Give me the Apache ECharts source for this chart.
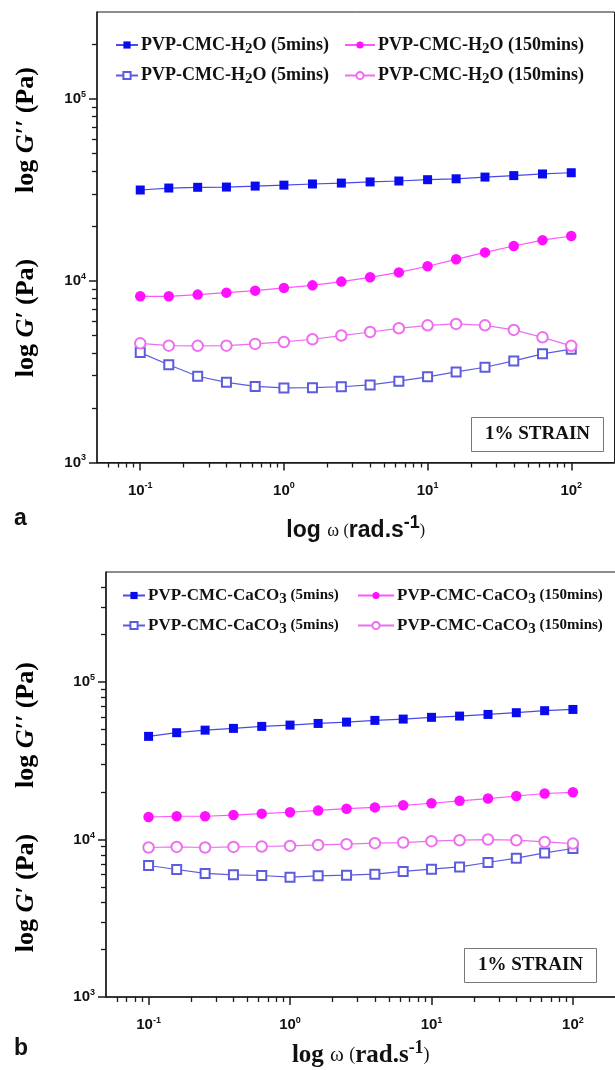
<!DOCTYPE html>
<html>
<head>
<meta charset="utf-8">
<script src="https://cdn.jsdelivr.net/npm/echarts@6/dist/echarts.min.js"></script>
<style>
html,body{margin:0;padding:0;background:#fff;}
#chart{width:615px;height:1070px;}
</style>
</head>
<body>
<div id="chart"></div>
<script>
// angular frequency (rad/s)
var omega = [0.1, 0.158, 0.251, 0.398, 0.631, 1, 1.58, 2.51, 3.98, 6.31, 10, 15.8, 25.1, 39.8, 63.1, 100];

// Panel a: PVP-CMC-H2O
var aGpp5   = [31500, 32300, 32600, 32700, 33100, 33500, 34000, 34400, 34900, 35300, 35900, 36300, 37100, 37800, 38600, 39200];
var aGpp150 = [8200, 8200, 8380, 8590, 8810, 9120, 9420, 9880, 10430, 11100, 12000, 13100, 14300, 15500, 16700, 17600];
var aGp5    = [4020, 3450, 2980, 2760, 2620, 2570, 2580, 2610, 2670, 2800, 2960, 3150, 3340, 3620, 3960, 4200];
var aGp150  = [4520, 4390, 4380, 4390, 4490, 4600, 4760, 4990, 5220, 5470, 5680, 5780, 5680, 5360, 4880, 4380];

// Panel b: PVP-CMC-CaCO3
var bGpp5   = [45200, 47700, 49500, 50800, 52300, 53300, 54600, 55700, 57100, 58200, 59700, 60800, 62300, 63900, 65800, 67000];
var bGpp150 = [13900, 14060, 14060, 14300, 14600, 14900, 15300, 15700, 16000, 16500, 17000, 17600, 18200, 18900, 19600, 19950];
var bGp5    = [6840, 6450, 6090, 5970, 5910, 5770, 5880, 5940, 6030, 6270, 6480, 6700, 7150, 7610, 8220, 8770];
var bGp150  = [8900, 8980, 8900, 8980, 9030, 9110, 9240, 9340, 9480, 9570, 9760, 9900, 10000, 9900, 9660, 9430];

// axis ranges and ticks
var xMin = 0.05, xMax = 200;
var aYMin = 1000, aYMax = 300000;
var bYMin = 1000, bYMax = 500000;
var xMajor = [0.1, 1, 10, 100];
var xMinor = [0.06,0.07,0.08,0.09, 0.2,0.3,0.4,0.5,0.6,0.7,0.8,0.9, 2,3,4,5,6,7,8,9, 20,30,40,50,60,70,80,90];
var yMajor = [1000, 10000, 100000];
var yMinorA = [2000,3000,4000,5000,6000,7000,8000,9000, 20000,30000,40000,50000,60000,70000,80000,90000, 200000];
var yMinorB = [2000,3000,4000,5000,6000,7000,8000,9000, 20000,30000,40000,50000,60000,70000,80000,90000, 200000,300000,400000];

var legendA = ['PVP-CMC-H2O (5mins) G\u2033', 'PVP-CMC-H2O (150mins) G\u2033', 'PVP-CMC-H2O (5mins) G\u2032', 'PVP-CMC-H2O (150mins) G\u2032'];
var legendB = ['PVP-CMC-CaCO3 (5mins) G\u2033', 'PVP-CMC-CaCO3 (150mins) G\u2033', 'PVP-CMC-CaCO3 (5mins) G\u2032', 'PVP-CMC-CaCO3 (150mins) G\u2032'];

var L = Math.log10;
var SERIF = '"Liberation Serif", "Times New Roman", serif';
var SANS = '"Liberation Sans", Arial, sans-serif';
var AX = '#1a1a1a';

function pairs(arr){ return omega.map(function(w,i){ return [w, arr[i]]; }); }

var grids = [
  {left: 97, top: 12, width: 517.5, height: 450.5, show: true, borderColor: AX, borderWidth: 1, containLabel: false, outerBoundsMode: 'none'},
  {left: 106, top: 572, width: 509.5, height: 425, show: true, borderColor: AX, borderWidth: 1, containLabel: false, outerBoundsMode: 'none'}
];

function expLabel(v){ return '{b|10}{s|' + Math.round(v) + '}'; }
var tickRich = {
  b: {fontFamily: SANS, fontWeight: 'bold', fontSize: 15, color: '#111'},
  s: {fontFamily: SANS, fontWeight: 'bold', fontSize: 9, color: '#111', verticalAlign: 'top', padding: [0,0,9,0]}
};

var xAxes = [], yAxes = [];
function addPanel(gi, yMin, yMax, yMinor, xNameRich, xNameText, nameGap){
  // data axes (log)
  xAxes.push({type: 'log', gridIndex: gi, min: xMin, max: xMax, show: false});
  yAxes.push({type: 'log', gridIndex: gi, min: yMin, max: yMax, show: false});
  // major ticks + labels in log10 space
  xAxes.push({type: 'value', gridIndex: gi, min: L(xMin), max: L(xMax), position: 'bottom',
    axisLine: {show: true, onZero: false, lineStyle: {color: AX, width: 1.5}},
    axisTick: {show: true, length: 8, lineStyle: {color: AX, width: 1.5}, customValues: xMajor.map(L)},
    axisLabel: {show: true, margin: 19, customValues: xMajor.map(L), formatter: expLabel, rich: tickRich},
    splitLine: {show: false},
    name: xNameText, nameLocation: 'middle', nameGap: nameGap,
    nameTextStyle: {rich: xNameRich}
  });
  yAxes.push({type: 'value', gridIndex: gi, min: L(yMin), max: L(yMax), position: 'left',
    axisLine: {show: true, onZero: false, lineStyle: {color: AX, width: 1.5}},
    axisTick: {show: true, length: 8, lineStyle: {color: AX, width: 1.5}, customValues: yMajor.map(L)},
    axisLabel: {show: true, margin: 11, customValues: yMajor.map(L), formatter: expLabel, rich: tickRich},
    splitLine: {show: false}
  });
  // minor ticks
  xAxes.push({type: 'value', gridIndex: gi, min: L(xMin), max: L(xMax), position: 'bottom',
    axisLine: {show: false, onZero: false}, axisLabel: {show: false}, splitLine: {show: false},
    axisTick: {show: true, length: 5, lineStyle: {color: AX, width: 1.3}, customValues: xMinor.map(L)}
  });
  yAxes.push({type: 'value', gridIndex: gi, min: L(yMin), max: L(yMax), position: 'left',
    axisLine: {show: false, onZero: false}, axisLabel: {show: false}, splitLine: {show: false},
    axisTick: {show: true, length: 5, lineStyle: {color: AX, width: 1.3}, customValues: yMinor.map(L)}
  });
}

var xNameRichA = {
  l: {fontFamily: SANS, fontWeight: 'bold', fontSize: 23, color: '#111'},
  w: {fontFamily: SERIF, fontSize: 18, color: '#111'},
  r: {fontFamily: SANS, fontWeight: 'bold', fontSize: 23, color: '#111'},
  rs: {fontFamily: SANS, fontWeight: 'bold', fontSize: 18, color: '#111', verticalAlign: 'top', padding: [0,0,15,0]},
  p: {fontFamily: SERIF, fontSize: 16, color: '#111'}
};
var xNameRichB = {
  l: {fontFamily: SERIF, fontWeight: 'bold', fontSize: 25, color: '#111'},
  w: {fontFamily: SERIF, fontSize: 21, color: '#111'},
  r: {fontFamily: SERIF, fontWeight: 'bold', fontSize: 25, color: '#111'},
  rs: {fontFamily: SERIF, fontWeight: 'bold', fontSize: 18, color: '#111', verticalAlign: 'top', padding: [0,0,15,0]},
  p: {fontFamily: SERIF, fontSize: 18, color: '#111'}
};
var xNameText = '{l|log }{w|\u03c9 }{p|(}{r|rad.s}{rs|-1}{p|)}';
addPanel(0, aYMin, aYMax, yMinorA, xNameRichA, xNameText, 52);
addPanel(1, bYMin, bYMax, yMinorB, xNameRichB, xNameText, 42);

var C_BLUE = '#0a0aee', C_BLUE_LINE = '#4a4ae6';
var C_PINK = '#ff11ff', C_PINK_LINE = '#ff55ff';
var C_OBLUE = '#5c5cdc';
var C_OPINK = '#ee6fee';

function mkSeries(name, xi, yi, data, kind){
  var s = {name: name, type: 'line', xAxisIndex: xi, yAxisIndex: yi, data: pairs(data),
    symbolSize: 9, showAllSymbol: true, animation: false, z: 3};
  if (kind === 'fs') { s.symbol = 'rect'; s.itemStyle = {color: C_BLUE}; s.lineStyle = {color: C_BLUE_LINE, width: 1.2}; }
  if (kind === 'fc') { s.symbol = 'circle'; s.symbolSize = 10.5; s.itemStyle = {color: C_PINK}; s.lineStyle = {color: C_PINK_LINE, width: 1.2}; }
  if (kind === 'os') { s.symbol = 'emptyRect'; s.itemStyle = {color: C_OBLUE, borderWidth: 1.3}; s.lineStyle = {color: C_OBLUE, width: 1.2}; }
  if (kind === 'oc') { s.symbol = 'emptyCircle'; s.symbolSize = 10.5; s.itemStyle = {color: C_OPINK, borderWidth: 1.3}; s.lineStyle = {color: C_OPINK, width: 1.2}; }
  return s;
}

var series = [
  mkSeries(legendA[0], 0, 0, aGpp5, 'fs'),
  mkSeries(legendA[1], 0, 0, aGpp150, 'fc'),
  mkSeries(legendA[2], 0, 0, aGp5, 'os'),
  mkSeries(legendA[3], 0, 0, aGp150, 'oc'),
  mkSeries(legendB[0], 3, 3, bGpp5, 'fs'),
  mkSeries(legendB[1], 3, 3, bGpp150, 'fc'),
  mkSeries(legendB[2], 3, 3, bGp5, 'os'),
  mkSeries(legendB[3], 3, 3, bGp150, 'oc')
];

var legRichA = {
  t: {fontFamily: SERIF, fontWeight: 'bold', fontSize: 18, color: '#111'},
  sub: {fontFamily: SERIF, fontWeight: 'bold', fontSize: 15, color: '#111', verticalAlign: 'bottom', padding: [8,0,0,0]}
};
var legRichB = {
  t: {fontFamily: SERIF, fontWeight: 'bold', fontSize: 17, color: '#111'},
  sub: {fontFamily: SERIF, fontWeight: 'bold', fontSize: 15, color: '#111', verticalAlign: 'bottom', padding: [8,0,0,0]},
  m: {fontFamily: SERIF, fontWeight: 'bold', fontSize: 15, color: '#111'}
};
function fmtA(name){ return '{t|PVP-CMC-H}{sub|2}{t|O ' + name.split(' ')[1] + '}'; }
function fmtB(name){ return '{t|PVP-CMC-CaCO}{sub|3}{m| ' + name.split(' ')[1] + '}'; }

function mkLegend(data, left, top, itemWidth, fmt, rich){
  return {data: data, orient: 'vertical', left: left, top: top, itemGap: 10, itemWidth: itemWidth, itemHeight: 9,
    padding: 0, formatter: fmt, textStyle: {rich: rich, padding: [0,0,0,-2]}, selectedMode: false};
}

var option = {
  animation: false,
  backgroundColor: '#fff',
  grid: grids,
  xAxis: xAxes,
  yAxis: yAxes,
  series: series,
  legend: [
    mkLegend([legendA[0], legendA[2]], 115, 36, 22, fmtA, legRichA),
    mkLegend([legendA[1], legendA[3]], 344, 36, 30, fmtA, legRichA),
    mkLegend([legendB[0], legendB[2]], 122, 587, 22, fmtB, legRichB),
    mkLegend([legendB[1], legendB[3]], 357, 587, 36, fmtB, legRichB)
  ],
  title: [
    {text: '1% STRAIN', left: 471, top: 417, padding: [8, 14], borderWidth: 1, borderColor: '#777', backgroundColor: '#fff',
      textStyle: {fontFamily: SERIF, fontWeight: 'bold', fontSize: 19, color: '#111'}},
    {text: '1% STRAIN', left: 464, top: 948, padding: [8, 14], borderWidth: 1, borderColor: '#777', backgroundColor: '#fff',
      textStyle: {fontFamily: SERIF, fontWeight: 'bold', fontSize: 19, color: '#111'}},
    {text: 'a', left: 14, top: 507, padding: 0, textStyle: {fontFamily: SANS, fontWeight: 'bold', fontSize: 23, color: '#111'}},
    {text: 'b', left: 14, top: 1037, padding: 0, textStyle: {fontFamily: SANS, fontWeight: 'bold', fontSize: 23, color: '#111'}}
  ],
  graphic: (function(){
    var rich = {
      n: {fontFamily: SERIF, fontWeight: 'bold', fontSize: 26, color: '#111'},
      i: {fontFamily: SERIF, fontWeight: 'bold', fontStyle: 'italic', fontSize: 26, color: '#111'}
    };
    function yt(x, y, prime){
      return {type: 'text', x: x, y: y, rotation: Math.PI / 2, silent: true,
        style: {text: '{n|log }{i|G' + prime + '}{n| (Pa)}', rich: rich, align: 'center', verticalAlign: 'middle'}};
    }
    return [
      yt(26, 130, '\u2032\u2032'),
      yt(26, 318, '\u2032'),
      yt(26, 725, '\u2032\u2032'),
      yt(26, 893, '\u2032')
    ];
  })()
};

var chart = echarts.init(document.getElementById('chart'), null, {renderer: 'canvas'});
chart.setOption(option);
</script>
</body>
</html>
